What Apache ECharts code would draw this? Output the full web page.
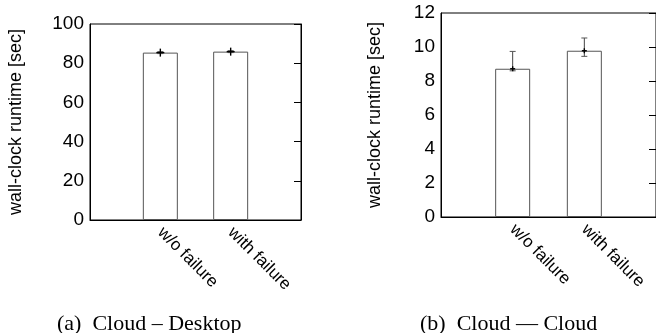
<!DOCTYPE html>
<html>
<head>
<meta charset="utf-8">
<script src="https://cdn.jsdelivr.net/npm/echarts@6/dist/echarts.min.js"></script>
<style>
  html, body { margin: 0; padding: 0; background: #fff; }
  #chart { width: 656px; height: 333px; }
</style>
</head>
<body>
<div id="chart"></div>
<script>
// Runtime measurements (seconds)
const categories = ['w/o failure', 'with failure'];

// (a) Cloud - Desktop
const desktopRuntime = [85.4, 85.9];
const desktopLow = [84.9, 85.4];
const desktopHigh = [85.9, 86.4];

// (b) Cloud - Cloud
const cloudRuntime = [8.72, 9.78];
const cloudLow = [8.6, 9.45];
const cloudHigh = [9.74, 10.53];

const captions = ['(a)\u2002Cloud \u2013 Desktop', '(b)\u2002Cloud \u2014 Cloud'];

// bars sit at x = 1, 2 on a 0..3 axis
const xPos = categories.map((c, i) => i + 1);

const sans = 'Liberation Sans, Arial, Helvetica, sans-serif';
const serif = 'Liberation Serif, Times New Roman, serif';

function xAxisFor(gridIndex) {
  return {
    type: 'value', gridIndex, min: 0, max: 3, interval: 1,
    axisLine: { show: true, lineStyle: { color: '#000', width: 1 } },
    axisTick: { show: true, inside: true, length: 8, customValues: xPos,
                lineStyle: { color: '#000', width: 1 } },
    axisLabel: {
      customValues: xPos,
      rotate: -45, margin: 10, fontSize: 17, color: '#000', fontFamily: sans,
      formatter: v => categories[Math.round(v) - 1] || ''
    },
    splitLine: { show: false }
  };
}

function yAxesFor(gridIndex, max, interval, nameGap) {
  return [{
    type: 'value', gridIndex, min: 0, max, interval, position: 'left',
    name: 'wall-clock runtime [sec]', nameLocation: 'middle', nameRotate: 90, nameGap,
    nameTextStyle: { fontSize: 18, color: '#000', fontFamily: sans },
    axisLine: { show: true, lineStyle: { color: '#000', width: 1 } },
    axisTick: { show: false },
    axisLabel: { margin: 6, fontSize: 19, color: '#000', fontFamily: sans },
    splitLine: { show: false }
  }, {
    type: 'value', gridIndex, min: 0, max, interval, position: 'right',
    axisLine: { show: true, lineStyle: { color: '#000', width: 1 } },
    axisTick: { show: true, inside: true, length: 7, lineStyle: { color: '#000', width: 1 } },
    axisLabel: { show: false },
    splitLine: { show: false }
  }];
}

function barSeries(idx, values) {
  return {
    type: 'bar', xAxisIndex: idx, yAxisIndex: idx * 2,
    barWidth: 35,
    data: values.map((v, i) => [xPos[i], v]),
    itemStyle: { color: '#fff', borderColor: '#555', borderWidth: 1 },
    silent: true, animation: false
  };
}

// error bar with end caps, plus a "+" marker at the measured value
function errorSeries(idx, values, low, high, mark) {
  return {
    type: 'custom', xAxisIndex: idx, yAxisIndex: idx * 2,
    data: values.map((v, i) => [xPos[i], v, low[i], high[i]]),
    encode: { x: 0, y: [1, 2, 3] },
    renderItem: (params, api) => {
      const x = api.value(0);
      const mid = api.coord([x, api.value(1)]);
      const bot = api.coord([x, api.value(2)]);
      const top = api.coord([x, api.value(3)]);
      const cap = 3;
      const seg = (x1, y1, x2, y2, style) => ({ type: 'line', shape: { x1, y1, x2, y2 }, style });
      const thin = { stroke: '#444', lineWidth: 1 };
      const capStyle = { stroke: '#555', lineWidth: 1 };
      const plus = { stroke: '#000', lineWidth: 1.4 };
      return {
        type: 'group',
        children: [
          seg(top[0], top[1], bot[0], bot[1], thin),
          seg(top[0] - cap, top[1], top[0] + cap, top[1], capStyle),
          seg(bot[0] - cap, bot[1], bot[0] + cap, bot[1], capStyle),
          seg(mid[0] - mark, mid[1], mid[0] + mark, mid[1], plus),
          seg(mid[0], mid[1] - mark, mid[0], mid[1] + mark, plus)
        ]
      };
    },
    z: 5, silent: true, animation: false
  };
}

const chart = echarts.init(document.getElementById('chart'), null, { renderer: 'canvas' });
chart.setOption({
  animation: false,
  backgroundColor: '#fff',
  title: [
    { text: captions[0], left: 52, top: 308,
      textStyle: { fontFamily: serif, fontSize: 22, fontWeight: 'normal', color: '#000' } },
    { text: captions[1], left: 415, top: 308,
      textStyle: { fontFamily: serif, fontSize: 22, fontWeight: 'normal', color: '#000' } }
  ],
  grid: [
    { left: 90, top: 24, width: 211, height: 196, show: true, borderColor: '#000', borderWidth: 1 },
    { left: 441, top: 13, width: 218, height: 204, show: true, borderColor: '#000', borderWidth: 1 }
  ],
  xAxis: [xAxisFor(0), xAxisFor(1)],
  yAxis: [...yAxesFor(0, 100, 20, 65), ...yAxesFor(1, 12, 2, 57)],
  series: [
    barSeries(0, desktopRuntime),
    errorSeries(0, desktopRuntime, desktopLow, desktopHigh, 4),
    barSeries(1, cloudRuntime),
    errorSeries(1, cloudRuntime, cloudLow, cloudHigh, 2.5)
  ]
});
</script>
</body>
</html>
